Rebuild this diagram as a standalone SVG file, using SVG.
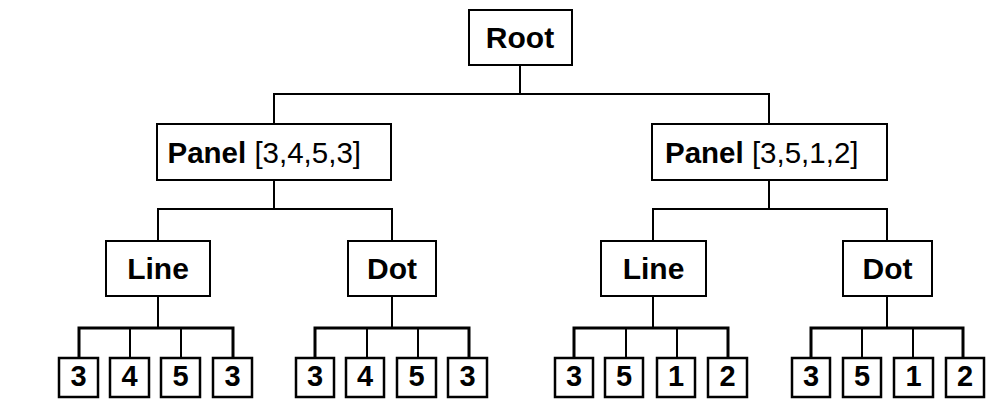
<svg xmlns="http://www.w3.org/2000/svg" width="1004" height="405" viewBox="0 0 1004 405">
<style>
.box{fill:#fff;stroke:#000;stroke-width:2}
.leaf{fill:#fff;stroke:#000;stroke-width:2.5}
.lbl{font-family:"Liberation Sans",Arial,sans-serif;font-size:30px;font-weight:bold;fill:#000;text-anchor:middle}
.num{font-family:"Liberation Sans",Arial,sans-serif;font-size:29px;font-weight:bold;fill:#000;text-anchor:middle}
.pl{font-family:"Liberation Sans",Arial,sans-serif;font-size:29.5px;fill:#000}
.c{fill:none;stroke:#000;stroke-width:2}
.b{fill:none;stroke:#000;stroke-width:3}
</style>
<rect width="1004" height="405" fill="#fff"/>
<g id="connectors">
<path class="c" d="M520 65V94M274 124V94H769V124"/>
<path class="c" d="M274 180V209M158 241V209H392V241"/>
<path class="c" d="M769 180V209M653 241V209H887V241"/>
<path class="c" d="M158 296V328M392 296V328M653 296V328M887 296V328"/>
<path class="b" d="M79 358V328H233V358M315 358V328H469V358M574 358V328H728V358M811 358V328H963V358"/>
<path class="c" d="M130 328V358M181 328V358M367 328V358M418 328V358M626 328V358M677 328V358M862 328V358M913 328V358"/>
</g>
<g id="root"><rect class="box" x="469" y="10" width="103" height="55"/><text class="lbl" x="520" y="48">Root</text></g>
<g id="panel1"><rect class="box" x="157" y="124" width="234" height="56"/><text class="pl" x="167.5" y="162.5"><tspan font-weight="bold">Panel</tspan> [3,4,5,3]</text></g>
<g id="panel2"><rect class="box" x="652" y="124" width="235" height="56"/><text class="pl" x="665" y="162.5"><tspan font-weight="bold">Panel</tspan> [3,5,1,2]</text></g>
<g id="line1"><rect class="box" x="106" y="241" width="104" height="55"/><text class="lbl" x="158" y="278.5">Line</text></g>
<g id="dot1"><rect class="box" x="348" y="241" width="88" height="55"/><text class="lbl" x="392" y="278.5">Dot</text></g>
<g id="line2"><rect class="box" x="601" y="241" width="105" height="55"/><text class="lbl" x="653.5" y="278.5">Line</text></g>
<g id="dot2"><rect class="box" x="843" y="241" width="89" height="55"/><text class="lbl" x="887.5" y="278.5">Dot</text></g>
<g id="leaf1"><rect class="leaf" x="59" y="358" width="39" height="39"/><text class="num" x="78.5" y="386">3</text></g>
<g id="leaf2"><rect class="leaf" x="110" y="358" width="39" height="39"/><text class="num" x="129.5" y="386">4</text></g>
<g id="leaf3"><rect class="leaf" x="161" y="358" width="39" height="39"/><text class="num" x="180.5" y="386">5</text></g>
<g id="leaf4"><rect class="leaf" x="213" y="358" width="39" height="39"/><text class="num" x="232.5" y="386">3</text></g>
<g id="leaf5"><rect class="leaf" x="296" y="358" width="38" height="39"/><text class="num" x="315" y="386">3</text></g>
<g id="leaf6"><rect class="leaf" x="346" y="358" width="38" height="39"/><text class="num" x="365" y="386">4</text></g>
<g id="leaf7"><rect class="leaf" x="397" y="358" width="39" height="39"/><text class="num" x="416.5" y="386">5</text></g>
<g id="leaf8"><rect class="leaf" x="448" y="358" width="39" height="39"/><text class="num" x="467.5" y="386">3</text></g>
<g id="leaf9"><rect class="leaf" x="555" y="358" width="38" height="39"/><text class="num" x="574" y="386">3</text></g>
<g id="leaf10"><rect class="leaf" x="605" y="358" width="38" height="39"/><text class="num" x="624" y="386">5</text></g>
<g id="leaf11"><rect class="leaf" x="657" y="358" width="38" height="39"/><text class="num" x="676" y="386">1</text></g>
<g id="leaf12"><rect class="leaf" x="708" y="358" width="39" height="39"/><text class="num" x="727.5" y="386">2</text></g>
<g id="leaf13"><rect class="leaf" x="792" y="358" width="38" height="39"/><text class="num" x="811" y="386">3</text></g>
<g id="leaf14"><rect class="leaf" x="843" y="358" width="38" height="39"/><text class="num" x="862" y="386">5</text></g>
<g id="leaf15"><rect class="leaf" x="894" y="358" width="39" height="39"/><text class="num" x="913.5" y="386">1</text></g>
<g id="leaf16"><rect class="leaf" x="946" y="358" width="38" height="39"/><text class="num" x="965" y="386">2</text></g>
</svg>
